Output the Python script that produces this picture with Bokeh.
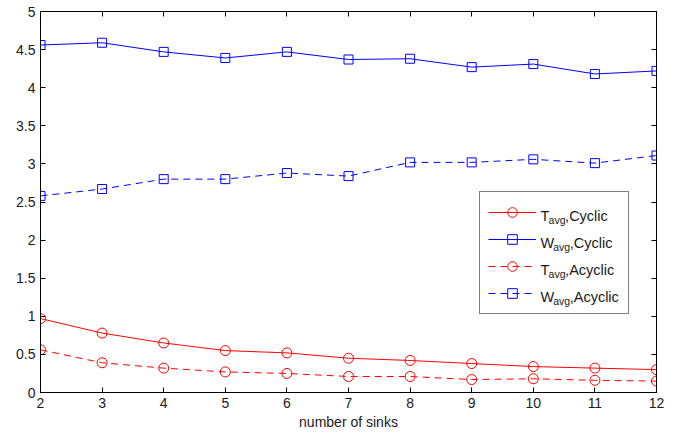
from bokeh.plotting import figure
from bokeh.models import (Legend, LegendItem, Label, LinearAxis, FixedTicker,
                          Range1d)
from bokeh.embed import file_html
from bokeh.resources import INLINE

# ---- data ----
sinks = [2, 3, 4, 5, 6, 7, 8, 9, 10, 11, 12]
t_cyclic = [0.97, 0.78, 0.65, 0.55, 0.52, 0.45, 0.42, 0.38, 0.34, 0.32, 0.30]
w_cyclic = [4.56, 4.59, 4.47, 4.39, 4.47, 4.37, 4.38, 4.27, 4.31, 4.18, 4.22]
t_acyclic = [0.56, 0.39, 0.32, 0.27, 0.25, 0.21, 0.21, 0.17, 0.18, 0.16, 0.15]
w_acyclic = [2.58, 2.67, 2.80, 2.80, 2.88, 2.84, 3.02, 3.02, 3.06, 3.01, 3.11]

x_ticks = [2, 3, 4, 5, 6, 7, 8, 9, 10, 11, 12]
y_ticks = [0, 0.5, 1, 1.5, 2, 2.5, 3, 3.5, 4, 4.5, 5]
y_tick_labels = ["0", "0.5", "1", "1.5", "2", "2.5", "3", "3.5", "4", "4.5", "5"]

legend_main = ["T", "W", "T", "W"]
legend_sub = ["avg", "avg", "avg", "avg"]
legend_rest = [",Cyclic", ",Cyclic", ",Acyclic", ",Acyclic"]
x_label = "number of sinks"

FONT = "Liberation Sans"
TXT = "#1a1a1a"
RED = "#ff0000"
BLUE = "#0000ff"
DASH = "7 5"

p = figure(width=678, height=437, output_backend="svg", toolbar_location=None,
           x_range=Range1d(2, 12), y_range=Range1d(0, 5),
           min_border_left=40, min_border_right=22, min_border_top=11,
           min_border_bottom=45)
p.background_fill_color = "white"
p.border_fill_color = "white"
p.outline_line_color = "black"
p.xgrid.visible = False
p.ygrid.visible = False


def style_axis(ax, ticks, labels=True):
    ax.ticker = FixedTicker(ticks=ticks)
    ax.major_tick_in = 5
    ax.major_tick_out = 0
    ax.minor_tick_in = 0
    ax.minor_tick_out = 0
    ax.axis_line_color = "black"
    ax.axis_line_width = 1
    ax.major_tick_line_color = "black"
    ax.major_label_text_font = FONT
    if labels:
        ax.major_label_text_color = TXT
        ax.major_label_text_font_size = "14px"
    else:
        ax.major_label_text_color = None
        ax.major_label_text_font_size = "0px"
        ax.major_label_standoff = 0


xa = p.xaxis[0]
style_axis(xa, x_ticks)
xa.major_label_standoff = 5
xa.axis_label = x_label
xa.axis_label_text_font = FONT
xa.axis_label_text_font_size = "14px"
xa.axis_label_text_font_style = "normal"
xa.axis_label_text_color = TXT
xa.axis_label_standoff = 3

ya = p.yaxis[0]
style_axis(ya, y_ticks)
ya.major_label_standoff = 5
ya.major_label_overrides = {t: l for t, l in zip(y_ticks, y_tick_labels)}

top_ax = LinearAxis()
style_axis(top_ax, x_ticks, labels=False)
p.add_layout(top_ax, "above")
right_ax = LinearAxis()
style_axis(right_ax, y_ticks, labels=False)
p.add_layout(right_ax, "right")

series = [
    (t_cyclic, RED, "circle", "solid", 10),
    (w_cyclic, BLUE, "square", "solid", 9),
    (t_acyclic, RED, "circle", DASH, 10),
    (w_acyclic, BLUE, "square", DASH, 9),
]

items = []
for ys, col, mk, dash, sz in series:
    lr = p.line(sinks, ys, line_color=col, line_width=1, line_dash=dash)
    sr = p.scatter(sinks, ys, marker=mk, size=sz, line_color=col,
                   fill_color=None, line_width=1)
    items.append(LegendItem(label="", renderers=[lr, sr]))

# legend geometry (screen units relative to frame bottom-left)
PAD, SP, GH, GW, STAND, LW = 8, 3, 24, 48, 4, 80
n = len(items)
leg_h = 2 * PAD + n * GH + (n - 1) * SP
leg_x, leg_y = 439, 78
legend = Legend(items=items, location=(leg_x, leg_y), padding=PAD, spacing=SP,
                glyph_height=GH, glyph_width=GW, label_standoff=STAND,
                label_width=LW, label_height=GH, margin=0,
                border_line_color="black", border_line_width=1,
                background_fill_color="white", background_fill_alpha=0,
                label_text_font=FONT, label_text_font_size="14px")
p.add_layout(legend)

widths_main = {"T": 8.6, "W": 13.2}
sub_w = 16.5
top_y = leg_y + leg_h
for i in range(n):
    cy = top_y - PAD - i * (GH + SP) - GH / 2
    x0 = leg_x + PAD + GW + STAND + 1
    p.add_layout(Label(x=x0, y=cy - 2.5, x_units="screen", y_units="screen",
                       text=legend_main[i], text_font=FONT, text_font_size="14.5px",
                       text_color=TXT, text_baseline="alphabetic", text_align="left"))
    x1 = x0 + widths_main[legend_main[i]] - 0.5
    p.add_layout(Label(x=x1, y=cy - 6.5, x_units="screen", y_units="screen",
                       text=legend_sub[i], text_font=FONT, text_font_size="10.5px",
                       text_color=TXT, text_baseline="alphabetic", text_align="left"))
    x2 = x1 + sub_w
    p.add_layout(Label(x=x2, y=cy - 2.5, x_units="screen", y_units="screen",
                       text=legend_rest[i], text_font=FONT, text_font_size="14.5px",
                       text_color=TXT, text_baseline="alphabetic", text_align="left"))

open("out.html", "w").write(file_html(p, INLINE))
